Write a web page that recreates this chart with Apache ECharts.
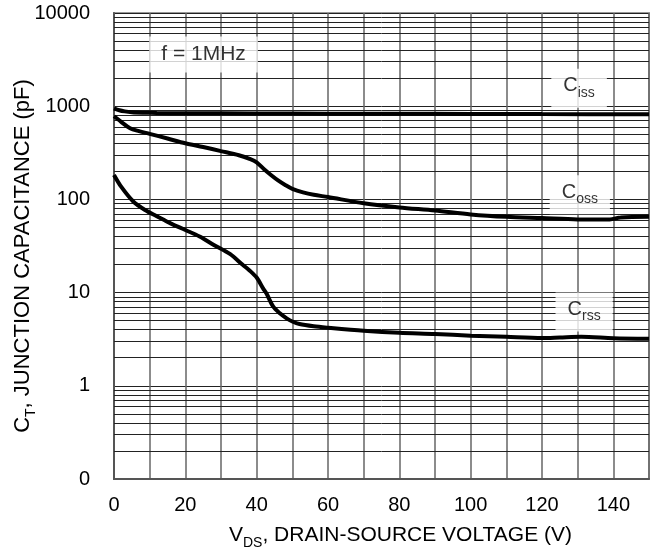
<!DOCTYPE html>
<html><head><meta charset="utf-8">
<script src="https://cdn.jsdelivr.net/npm/echarts@6/dist/echarts.min.js"></script>
<style>html,body{margin:0;padding:0;background:#fff}#c{width:658px;height:550px}</style>
</head><body><div id="c"></div>
<script>
const cissV = [0, 1.5, 3, 5, 8, 12, 20, 40, 60, 80, 100, 120, 150];
const cissC = [950, 905, 880, 862, 852, 846, 840, 836, 832, 829, 826, 823, 820];
const cossV = [0, 2, 4.5, 7, 10, 15, 20, 25, 30, 35, 38, 40, 42, 44, 46, 48, 50, 53, 56, 60, 70, 80, 90, 100, 110, 120, 130, 139, 142, 150];
const cossC = [780, 680, 580, 540, 505, 450, 400, 365, 330, 298, 272, 250, 212, 183, 160, 143, 130, 119, 112, 106, 91, 82, 76, 69, 65, 63, 61, 61, 64, 65];
const crssV = [0, 2, 5.4, 8.7, 12, 16, 20, 24, 28, 32.5, 36, 38, 40, 41.8, 42.8, 44.6, 46.5, 48.4, 50, 52, 56, 60, 70, 80, 90, 100, 110, 120, 125, 131, 140, 150];
const crssC = [183, 137, 95, 77, 66, 55, 47, 40, 32.5, 26, 20, 17.3, 14.5, 11.1, 9.7, 7.1, 6.0, 5.3, 4.9, 4.6, 4.35, 4.2, 3.9, 3.7, 3.6, 3.45, 3.35, 3.26, 3.3, 3.35, 3.24, 3.2];
const decades = [0.1, 1, 10, 100, 1000];
const minorMult = [2, 3, 4, 5, 6, 7, 8, 9];
const yTickLabels = {0.1: '0', 1: '1', 10: '10', 100: '100', 1000: '1000', 10000: '10000'};
const noteText = ['{m|C}{s|iss}', '{m|C}{s|oss}', '{m|C}{s|rss}', '{f|f = 1MHz}'];
const noteAt = [[130.4, 1560], [130.6, 112], [131.8, 6.2], [25.1, 3590]];

const minorVals = [];
decades.forEach(d => minorMult.forEach(m => minorVals.push(+(d * m).toPrecision(3))));

function pairs(xs, ys) { return xs.map((x, i) => [x, ys[i]]); }

const FF = 'Liberation Sans, Arial, sans-serif';
function richSet(main, sub) {
  return {
    m: {fontSize: main, fontFamily: FF, color: '#000', lineHeight: main + 4, verticalAlign: 'top'},
    s: {fontSize: sub, fontFamily: FF, color: '#000', lineHeight: sub, verticalAlign: 'bottom'},
    f: {fontSize: 21, fontFamily: FF, color: '#000', lineHeight: 21}
  };
}

const lineStyleCurve = {color: '#000', width: 4};
const chart = echarts.init(document.getElementById('c'));
chart.setOption({
  animation: false,
  backgroundColor: '#fff',
  grid: {left: 114, right: 9, top: 13, bottom: 71, containLabel: false, outerBoundsMode: 'none',
    show: true, borderColor: '#999', borderWidth: 2},
  xAxis: {
    type: 'value', min: 0, max: 150, interval: 10,
    axisLine: {show: true, lineStyle: {color: '#555', width: 2}},
    axisTick: {show: false},
    splitLine: {show: true, lineStyle: {color: '#666', width: 1.5}},
    axisLabel: {margin: 16, fontSize: 20, fontFamily: FF, color: '#000',
      formatter: v => (Math.round(v) % 20 === 0 ? String(Math.round(v)) : '')},
    name: '{m|V}{s|DS}{m|, DRAIN-SOURCE VOLTAGE (V)}',
    nameLocation: 'middle', nameGap: 46, nameMoveOverlap: false,
    nameTextStyle: {rich: richSet(21, 14), padding: [0, 0, 0, 38]}
  },
  yAxis: {
    type: 'log', logBase: 10, min: 0.1, max: 10000,
    axisLine: {show: true, lineStyle: {color: '#555', width: 2}},
    axisTick: {show: false},
    splitLine: {show: true, lineStyle: {color: '#222', width: 1}},
    axisLabel: {margin: 24, fontSize: 20, fontFamily: FF, color: '#000',
      formatter: v => { const k = +(+v).toPrecision(3); return yTickLabels[k] !== undefined ? yTickLabels[k] : ''; }},
    name: '{m|C}{s|T}{m|, JUNCTION CAPACITANCE (pF)}',
    nameLocation: 'middle', nameGap: 76, nameRotate: 90, nameMoveOverlap: false,
    nameTextStyle: {rich: richSet(22, 14), padding: [0, 20, 0, 0]}
  },
  series: [
    {type: 'line', data: [], silent: true, z: 1,
      markLine: {silent: true, symbol: 'none', label: {show: false},
        lineStyle: {color: '#222', width: 1, type: 'solid'},
        data: minorVals.map(v => ({yAxis: v}))}},
    {name: 'Ciss', type: 'line', data: pairs(cissV, cissC), showSymbol: false, smooth: 0.3, lineStyle: lineStyleCurve, z: 5},
    {name: 'Coss', type: 'line', data: pairs(cossV, cossC), showSymbol: false, smooth: 0.3, lineStyle: lineStyleCurve, z: 5},
    {name: 'Crss', type: 'line', data: pairs(crssV, crssC), showSymbol: false, smooth: 0.3, lineStyle: lineStyleCurve, z: 5},
    {type: 'scatter', symbolSize: 0, z: 10, silent: true,
      data: noteAt.map((p, i) => ({value: p, label: {formatter: noteText[i]}})),
      label: {show: true, position: 'inside', backgroundColor: '#fff', padding: [7, 12, 8, 12], rich: richSet(20, 14)}}
  ]
});
</script></body></html>
